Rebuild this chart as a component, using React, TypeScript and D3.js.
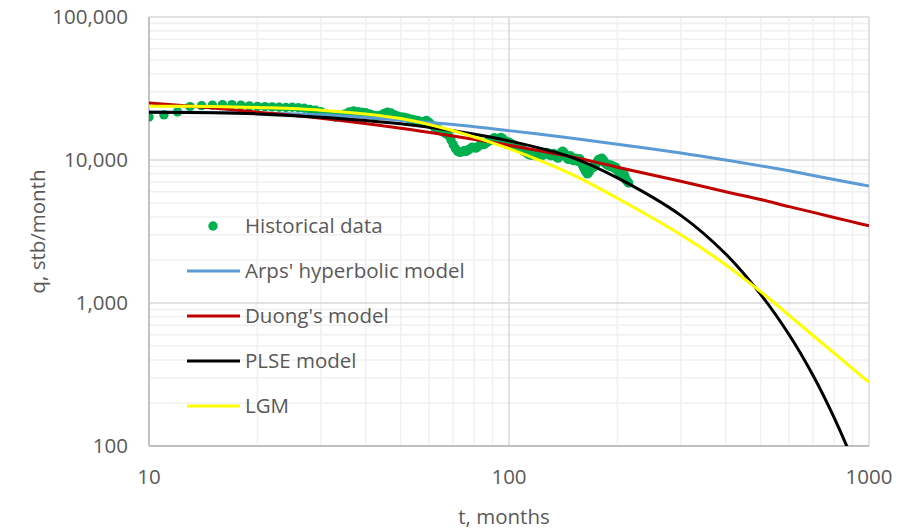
import React from "react";
import * as d3 from "d3";

// Monthly historical production rate (stb/month), first month = 10
const historyStartMonth = 10;
const historicalRate = [
  20000, 20700, 21700, 23600, 24000, 24200, 24400, 24400, 24200, 23900,
  23700, 23600, 23500, 23400, 23300, 23400, 23200, 23000, 22600, 22300,
  21800, 21000, 20300, 19900, 20200, 21000, 21700, 22000, 21800, 21600,
  21400, 21000, 20600, 20400, 20600, 21200, 21600, 21300, 20700, 20300,
  20000, 19900, 19700, 19400, 19200, 19000, 18800, 18400, 18600, 18900,
  18300, 17600, 17000, 16600, 16200, 15900, 15500, 15200, 14800, 13800,
  12800, 12000, 11500, 11300, 11400, 11600, 11500, 11700, 12000, 12300,
  12200, 12100, 12400, 12700, 12900, 12800, 13000, 13300, 13600, 13800,
  14000, 14300, 14100, 13900, 14200, 14400, 14100, 13700, 13500, 13400,
  13300, 13100, 12900, 12800, 12600, 12400, 12200, 12000, 11900, 11700,
  11600, 11400, 11200, 11000, 10900, 10800, 10900, 11100, 10900, 10700,
  10800, 11000, 11200, 11000, 10800, 10900, 11100, 11300, 11200, 11000,
  10800, 10700, 10900, 11100, 11000, 10700, 10400, 10300, 10600, 11000,
  11400, 11500, 11300, 11000, 10600, 10300, 10100, 10400, 10700, 10500,
  10100, 9900, 10200, 10300, 10100, 9800, 9900, 10200, 10000, 9600,
  9200, 8900, 8600, 8400, 8200, 8000, 8100, 8300, 8500, 8700,
  8900, 9000, 8900, 9100, 9300, 9500, 9800, 10000, 10100, 9900,
  10200, 10300, 10100, 9900, 9700, 9500, 9400, 9300, 9200, 9300,
  9100, 9000, 9200, 9100, 8900, 9000, 8800, 8700, 8900, 8600,
  8500, 8400, 8200, 8100, 8000, 8000, 7900, 7800, 7700, 7900,
  7600, 7400, 7200, 7100, 7000, 6900,
];

// Model forecasts sampled at these months
const modelMonths = [10, 15, 20, 30, 50, 70, 100, 150, 200, 300, 400, 500, 600, 700, 800, 900, 1000];
const arpsRate = [21700, 21500, 21300, 20700, 19000, 17700, 16050, 14200, 12900, 11200, 10000, 9100, 8400, 7800, 7300, 6900, 6580];
const duongRate = [25000, 23100, 21600, 19600, 16700, 14700, 12700, 10500, 8900, 7100, 6000, 5300, 4720, 4300, 3960, 3690, 3470];
const plseRate = [21600, 21400, 21000, 19900, 17900, 16000, 13600, 10400, 7500, 4100, 2200, 1150, 600, 310, 158, 80, 40];
const lgmRate = [23800, 23700, 23300, 22300, 19500, 16000, 12000, 7900, 5400, 3000, 1850, 1200, 820, 590, 446, 348, 279];

const series = [
  { name: "Arps' hyperbolic model", color: "#5b9bd5", values: arpsRate },
  { name: "Duong's model", color: "#c00000", values: duongRate },
  { name: "PLSE model", color: "#000000", values: plseRate },
  { name: "LGM", color: "#ffff00", values: lgmRate },
];

const xTickValues = [10, 100, 1000];
const yTickValues = [100, 1000, 10000, 100000];

const W = 897;
const H = 531;
const plot = { left: 149, right: 869, top: 17, bottom: 446 };
const FONT = "'Open Sans', sans-serif";
const TEXT = "#595959";

export default function App() {
  const x = d3.scaleLog().domain([10, 1000]).range([plot.left, plot.right]);
  const y = d3.scaleLog().domain([100, 100000]).range([plot.bottom, plot.top]);

  const minorX: number[] = [];
  const minorY: number[] = [];
  for (const dec of [10, 100]) for (let k = 2; k <= 9; k++) minorX.push(dec * k);
  for (const dec of [100, 1000, 10000]) for (let k = 2; k <= 9; k++) minorY.push(dec * k);

  const line = d3
    .line<[number, number]>()
    .x((d) => x(d[0]))
    .y((d) => y(d[1]))
    .curve(d3.curveCatmullRom.alpha(0.5));

  const fmt = d3.format(",");
  const legendY0 = 226;
  const legendStep = 45;

  return (
    <div style={{ position: "absolute", left: 0, top: 0 }}>
      <svg width={W} height={H} style={{ display: "block", background: "#fff" }}>
        <defs>
          <clipPath id="plotClip">
            <rect x={plot.left} y={plot.top} width={plot.right - plot.left} height={plot.bottom - plot.top} />
          </clipPath>
        </defs>
        {/* minor gridlines */}
        {minorX.map((t) => (
          <line key={"mx" + t} x1={x(t)} x2={x(t)} y1={plot.top} y2={plot.bottom} stroke="#f0f0f0" strokeWidth={1.5} />
        ))}
        {minorY.map((q) => (
          <line key={"my" + q} x1={plot.left} x2={plot.right} y1={y(q)} y2={y(q)} stroke="#f0f0f0" strokeWidth={1.5} />
        ))}
        {/* major gridlines */}
        {xTickValues.map((t) => (
          <line key={"gx" + t} x1={x(t)} x2={x(t)} y1={plot.top} y2={plot.bottom} stroke="#d9d9d9" strokeWidth={1.5} />
        ))}
        {yTickValues.map((q) => (
          <line key={"gy" + q} x1={plot.left} x2={plot.right} y1={y(q)} y2={y(q)} stroke="#d9d9d9" strokeWidth={1.5} />
        ))}
        {/* axis lines */}
        <line x1={plot.left} x2={plot.left} y1={plot.top} y2={plot.bottom} stroke="#bfbfbf" strokeWidth={1.8} />
        <line x1={plot.left} x2={plot.right} y1={plot.bottom} y2={plot.bottom} stroke="#bfbfbf" strokeWidth={1.8} />

        <g clipPath="url(#plotClip)">
          {historicalRate.map((q, i) => (
            <circle key={"h" + i} cx={x(historyStartMonth + i)} cy={y(q)} r={4.7} fill="#00b050" />
          ))}
          {series.map((s) => (
            <path
              key={s.name}
              d={line(modelMonths.map((t, i) => [t, s.values[i]] as [number, number])) || ""}
              fill="none"
              stroke={s.color}
              strokeWidth={3}
            />
          ))}
        </g>

        {/* tick labels */}
        {yTickValues.map((q) => (
          <text key={"yl" + q} x={128} y={y(q)} dy="0.35em" textAnchor="end" fontFamily={FONT} fontSize={20.5} fill={TEXT}>
            {fmt(q)}
          </text>
        ))}
        {xTickValues.map((t) => (
          <text key={"xl" + t} x={x(t)} y={484} textAnchor="middle" fontFamily={FONT} fontSize={20.5} fill={TEXT}>
            {t}
          </text>
        ))}
        {/* axis titles */}
        <text x={504} y={524} textAnchor="middle" fontFamily={FONT} fontSize={20.5} fill={TEXT}>
          t, months
        </text>
        <text
          transform={`translate(45, ${(plot.top + plot.bottom) / 2}) rotate(-90)`}
          textAnchor="middle"
          fontFamily={FONT}
          fontSize={20.5}
          fill={TEXT}
        >
          q, stb/month
        </text>

        {/* legend */}
        <circle cx={213} cy={legendY0} r={4.7} fill="#00b050" />
        <text x={245} y={legendY0} dy="0.35em" fontFamily={FONT} fontSize={20.5} fill={TEXT}>
          Historical data
        </text>
        {series.map((s, i) => {
          const ly = legendY0 + legendStep * (i + 1);
          return (
            <g key={"lg" + s.name}>
              <line x1={187} x2={240} y1={ly} y2={ly} stroke={s.color} strokeWidth={3} />
              <text x={245} y={ly} dy="0.35em" fontFamily={FONT} fontSize={20.5} fill={TEXT}>
                {s.name}
              </text>
            </g>
          );
        })}
      </svg>
    </div>
  );
}
